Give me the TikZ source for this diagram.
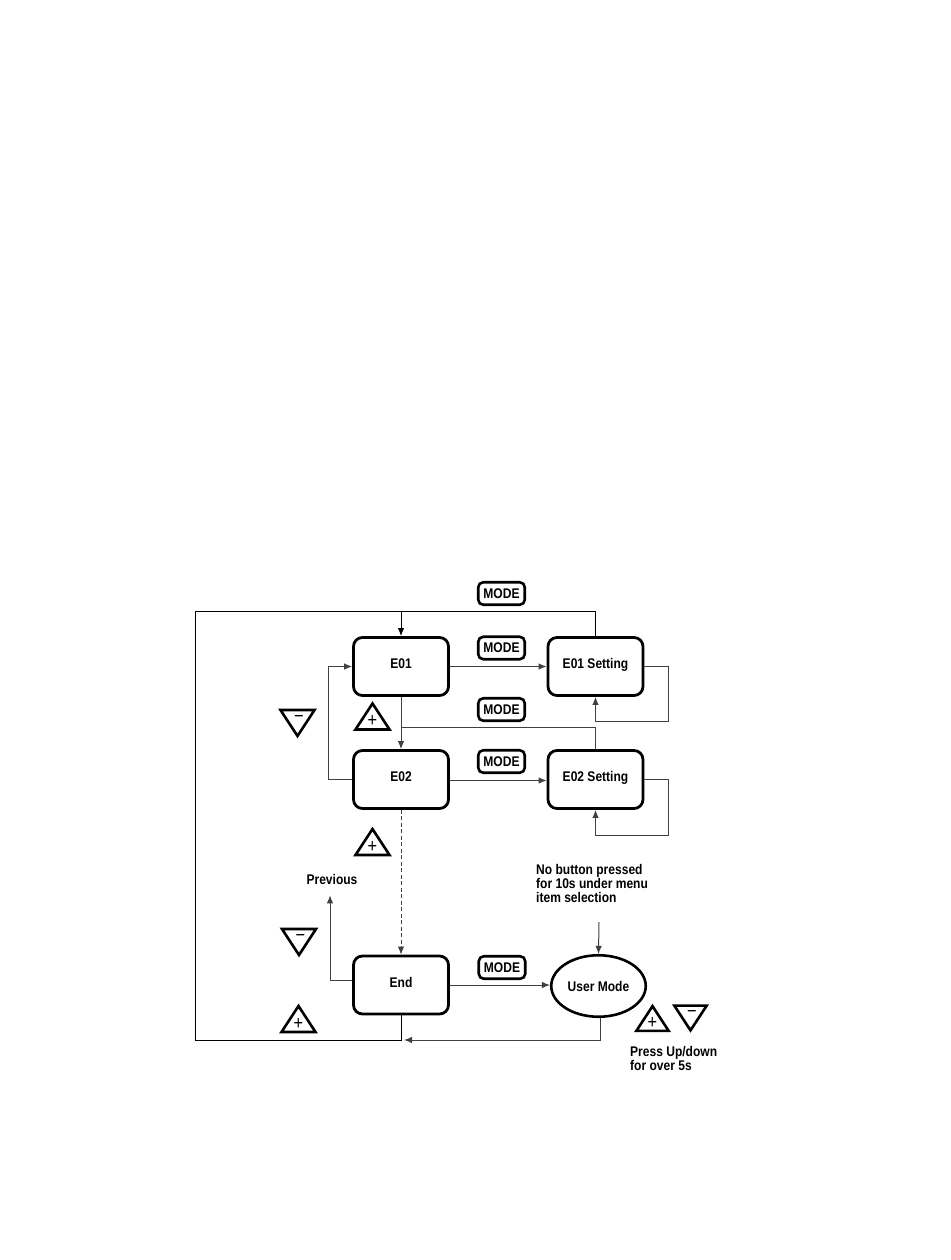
\documentclass[tikz,border=0pt]{standalone}
\usepackage{fontspec}
\setmainfont{Liberation Sans}[FakeStretch=0.86]
\usetikzlibrary{arrows.meta,shapes.geometric}
\begin{document}
\begin{tikzpicture}[x=1pt,y=-1pt,
  font=\fontsize{14}{14}\selectfont\bfseries,
  stepbox/.style={draw=black,line width=2.8pt,rounded corners=9pt,minimum width=95pt,minimum height=58pt,inner sep=0pt,text height=10pt,text depth=6pt},
  modebox/.style={draw=black,line width=2.6pt,rounded corners=5pt,minimum width=46.5pt,minimum height=22.5pt,inner sep=0pt},
  usermode/.style={draw=black,line width=2.6pt,ellipse,minimum width=94.5pt,minimum height=61.5pt,inner sep=0pt},
  conn/.style={draw=black!75,line width=1pt},
  outer/.style={draw=black,line width=1pt},
  arr/.style={-{Latex[length=8pt,width=6.5pt]}},
  note/.style={align=left,inner sep=0pt,anchor=north west,font=\fontsize{14}{14}\selectfont\bfseries},
  sign/.style={inner sep=0pt,font=\fontsize{19}{19}\selectfont},
  btn/.style={draw=black,line width=2.6pt,line join=miter,fill=white},
  plusbtn/.pic={\draw[btn] (-17,13)--(0,-13)--(17,13)--cycle;
                \node[sign] (-sign) at (0,5) {+};},
  minusbtn/.pic={\draw[btn] (-17,-13)--(17,-13)--(0,13)--cycle;
                \node[sign] (-sign) at (1.5,-4.5) {\char"2212};}
]
\useasboundingbox (0,0) rectangle (950,1260);

% main boxes
\node[stepbox] (e1) at (401,666.5) {E01};
\node[stepbox] (s1) at (595.5,666.5) {E01 Setting};
\node[stepbox] (e2) at (401,779.5) {E02};
\node[stepbox] (s2) at (595.5,779.5) {E02 Setting};
\node[stepbox] (end) at (401,985) {End};
\node[usermode] (um) at (598.5,986) {User Mode};

% MODE labels
\node[modebox] (m0) at (501.5,593.5) {MODE};
\node[modebox] (m1) at (501.5,648) {MODE};
\node[modebox] (m2) at (501.5,709.5) {MODE};
\node[modebox] (m3) at (501.5,761.5) {MODE};
\node[modebox] (m4) at (502,967.5) {MODE};

% texts
\node[inner sep=0pt] (prev) at (332,879) {Previous};
\node[note] (nb) at (536,864) {No button pressed\\for 10s under menu\\item selection};
\node[note] (pu) at (630,1046) {Press Up/down\\for over 5s};

% coordinates
\coordinate (tl) at (195,611);
\coordinate (bl) at (195,1040);
\coordinate (j1) at (401,727);
\coordinate (nbc) at (599,922);

% connectors
\draw[outer] (s1.north) |- (tl) -- (bl) -| (end.south);
\draw[outer,arr] (e1.north |- tl) -- (e1.north);
\draw[conn,arr] (e1.east) -- (s1.west);
\draw[conn,arr] (s1.east) -- ++(24,0) -- ++(0,55) -| (s1.south);
\draw[conn,arr] (e1.south) -- (e2.north);
\draw[conn] (s2.north) |- (j1);
\draw[conn,arr] ([yshift=-1pt]e2.east) -- ([yshift=-1pt]s2.west);
\draw[conn,arr] (s2.east) -- ++(24,0) -- ++(0,56) -| (s2.south);
\draw[conn,arr] (e2.west) -- ++(-24,0) |- (e1.west);
\draw[conn,arr,dashed,dash pattern=on 4pt off 2.5pt] (e2.south) -- (end.north);
\draw[conn,arr] ([yshift=5pt]end.west) -| ([yshift=-11pt]prev.south west -| 330,0);
\draw[conn,arr] (end.east) -- (end.east -| um.west);
\draw[conn,arr] (nbc) -- (um.north);
\draw[conn,arr] ([xshift=2pt]um.south) |- ([xshift=3pt]end.south |- bl);

% buttons
\pic (t1) at (297.5,723) {minusbtn};
\pic (t2) at (372.5,716.5) {plusbtn};
\pic (t3) at (372.5,842) {plusbtn};
\pic (t4) at (299,942) {minusbtn};
\pic (t5) at (298.5,1019) {plusbtn};
\pic[scale=0.95] (t6) at (652.5,1018.5) {plusbtn};
\pic[scale=0.95] (t7) at (690.5,1018) {minusbtn};
\end{tikzpicture}
\end{document}
